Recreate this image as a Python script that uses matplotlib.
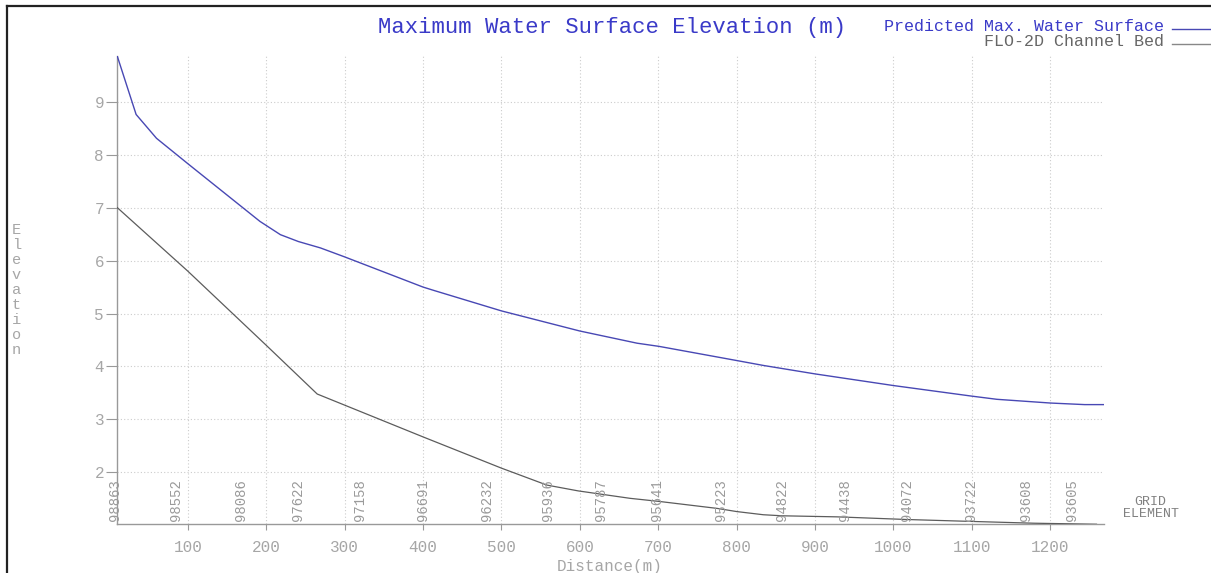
import matplotlib
matplotlib.use('Agg')
import matplotlib.pyplot as plt
from matplotlib.lines import Line2D
from matplotlib.transforms import blended_transform_factory

# Water surface profile along the channel (distance in m, elevation in m)
WaterDist=[10, 34, 60, 100, 192, 218, 241, 269, 300, 400, 413, 500, 600, 673, 701, 801, 834, 900, 1000, 1100, 1132, 1200, 1244, 1269]
WaterElev=[9.86, 8.76, 8.31, 7.83, 6.74, 6.49, 6.36, 6.24, 6.07, 5.50, 5.44, 5.05, 4.67, 4.44, 4.38, 4.11, 4.02, 3.86, 3.64, 3.44, 3.38, 3.31, 3.28, 3.28]
# Channel bed
BedDist=[10, 100, 200, 265, 400, 500, 558, 598, 664, 702, 775, 800, 834, 858, 928, 1017, 1085, 1179, 1259]
BedElev=[7.00, 5.80, 4.40, 3.48, 2.67, 2.08, 1.76, 1.65, 1.51, 1.45, 1.32, 1.26, 1.20, 1.18, 1.16, 1.11, 1.08, 1.04, 1.02]
# Grid elements along the profile
GridDist=[7, 85, 168, 241, 319, 400, 482, 559, 627, 698, 780, 858, 938, 1017, 1099, 1169, 1228]
GridElem=['98863', '98552', '98086', '97622', '97158', '96691', '96232', '95936', '95787', '95641', '95223', '94822', '94438', '94072', '93722', '93608', '93605']
XTicks=[100, 200, 300, 400, 500, 600, 700, 800, 900, 1000, 1100, 1200]
YTicks=[2, 3, 4, 5, 6, 7, 8, 9]

W, H = 1211, 573
Font='Liberation Mono'
Blue='#3a3ac8'
LineBlue='#4848b4'
Gray='#5c5c5c'
TickGray='#a6a6a6'

def fx(px):
    return px/W
def fy(py):
    return 1-py/H

fig=plt.figure(figsize=(W/100, H/100), dpi=100)
ax=fig.add_axes([fx(117.3), fy(524), fx(1104.3)-fx(117.3), fy(55.7)-fy(524)])

ax.plot(WaterDist, WaterElev, color=LineBlue, lw=1.0, zorder=3)
ax.plot(BedDist, BedElev, color=Gray, lw=0.9, zorder=3)

ax.set_xlim(10, 1269)
ax.set_ylim(1.025, 9.87)
ax.set_xticks(XTicks)
ax.set_yticks(YTicks)
ax.grid(True, color='#cccccc', lw=0.8, linestyle=(0, (1, 2)))
for s in ['top', 'right']:
    ax.spines[s].set_visible(False)
for s in ['left', 'bottom']:
    ax.spines[s].set_color('#999999')
    ax.spines[s].set_linewidth(1.0)
ax.tick_params(axis='y', direction='out', length=8, width=0.8, color='#999999', pad=1.5, labelcolor=TickGray, labelsize=11.5)
ax.tick_params(axis='x', direction='out', length=4.5, width=0.8, color='#999999', pad=7, labelcolor=TickGray, labelsize=11.5)
for lab in ax.get_xticklabels()+ax.get_yticklabels():
    lab.set_fontfamily(Font)

# grid element numbers sitting on the x axis
trans=blended_transform_factory(ax.transData, ax.transAxes)
for d, g in zip(GridDist, GridElem):
    ax.text(d, 0.006, g, rotation=90, ha='center', va='bottom', transform=trans,
            fontsize=10, family=Font, color='#9a9a9a', clip_on=False)

fig.text(fx(612.5), fy(27), 'Maximum Water Surface Elevation (m)', ha='center', va='center',
         fontsize=16, family=Font, color=Blue)

fig.text(fx(1164), fy(26.7), 'Predicted Max. Water Surface', ha='right', va='center',
         fontsize=12, family=Font, color=Blue)
fig.add_artist(Line2D([fx(1172), fx(1211)], [fy(29.3), fy(29.3)], color=LineBlue, lw=1.0))
fig.text(fx(1164), fy(41.7), 'FLO-2D Channel Bed', ha='right', va='center',
         fontsize=12, family=Font, color='#666666')
fig.add_artist(Line2D([fx(1172), fx(1211)], [fy(43.5), fy(43.5)], color='#888888', lw=1.0))

fig.text(fx(610), fy(566), 'Distance(m)', ha='center', va='center', fontsize=11.5, family=Font, color=TickGray)
fig.text(fx(1150.7), fy(502), 'GRID', ha='center', va='center', fontsize=9.5, family=Font, color='#808080')
fig.text(fx(1150.7), fy(514), 'ELEMENT', ha='center', va='center', fontsize=9.5, family=Font, color='#808080')

# y label as a column of letters
for i, c in enumerate('Elevation'):
    fig.text(fx(16.5), fy(230+15*i), c, ha='center', va='center', fontsize=11, family=Font, color=TickGray)

# outer frame (left and top edges)
fig.add_artist(Line2D([fx(7), fx(7)], [fy(6), 0], color='#222222', lw=1.6))
fig.add_artist(Line2D([fx(7), 1], [fy(6), fy(6)], color='#222222', lw=1.6))

fig.savefig('out.png', dpi=100)
plt.close()
